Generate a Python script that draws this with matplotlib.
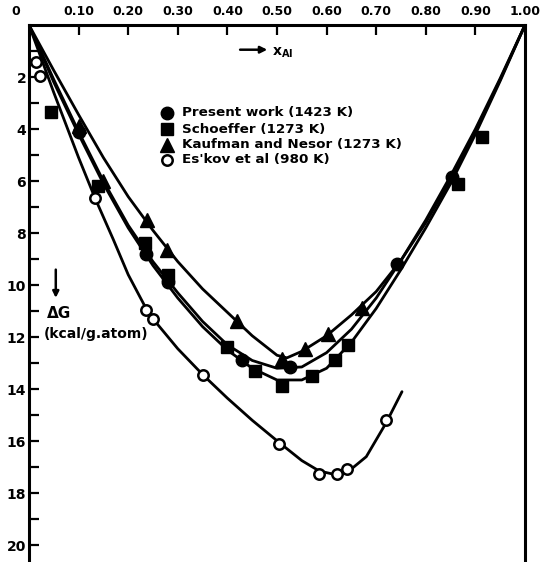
import matplotlib
matplotlib.use('Agg')
import matplotlib.pyplot as plt

# ---------------- data ----------------
x_ticks = [0.10, 0.20, 0.30, 0.40, 0.50, 0.60, 0.70, 0.80, 0.90, 1.00]
x_tick_labels = ['0.10', '0.20', '0.30', '0.40', '0.50', '0.60', '0.70', '0.80', '0.90', '1.00']
y_major = [2, 4, 6, 8, 10, 12, 14, 16, 18, 20]
y_minor = [1, 3, 5, 7, 9, 11, 13, 15, 17, 19]

# measured points
present_x = [0.10, 0.236, 0.28, 0.43, 0.526, 0.742, 0.853]
present_y = [4.1, 8.8, 9.9, 12.9, 13.15, 9.2, 5.85]
schoeffer_x = [0.045, 0.14, 0.234, 0.28, 0.40, 0.456, 0.51, 0.57, 0.617, 0.643, 0.865, 0.913]
schoeffer_y = [3.35, 6.2, 8.4, 9.6, 12.4, 13.3, 13.9, 13.5, 12.9, 12.3, 6.1, 4.3]
kaufman_x = [0.10, 0.15, 0.238, 0.278, 0.419, 0.51, 0.556, 0.603, 0.671]
kaufman_y = [3.9, 6.0, 7.5, 8.65, 11.4, 12.85, 12.45, 11.9, 10.9]
eskov_x = [0.014, 0.023, 0.133, 0.236, 0.25, 0.351, 0.504, 0.585, 0.621, 0.641, 0.72]
eskov_y = [1.42, 1.97, 6.65, 10.96, 11.3, 13.46, 16.1, 17.27, 17.27, 17.08, 15.2]

# hand-drawn curves
kaufman_curve_x = [0, 0.05, 0.10, 0.15, 0.20, 0.25, 0.30, 0.35, 0.40, 0.45, 0.50, 0.52,
                   0.55, 0.60, 0.65, 0.70, 0.75, 0.80, 0.85, 0.90, 0.95, 1.0]
kaufman_curve_y = [0, 1.75, 3.45, 5.1, 6.6, 7.9, 9.1, 10.15, 11.05, 11.95, 12.7, 12.8,
                   12.55, 11.95, 11.15, 10.25, 9.05, 7.6, 5.95, 4.1, 2.1, 0]
present_curve_x = [0, 0.05, 0.10, 0.15, 0.20, 0.25, 0.30, 0.35, 0.40, 0.45, 0.50, 0.55,
                   0.60, 0.65, 0.70, 0.75, 0.80, 0.85, 0.90, 0.95, 1.0]
present_curve_y = [0, 2.1, 4.1, 6.0, 7.7, 9.1, 10.3, 11.4, 12.3, 12.9, 13.2, 13.15,
                   12.6, 11.7, 10.5, 9.05, 7.5, 5.8, 4.0, 2.05, 0]
schoeffer_curve_x = [0, 0.05, 0.10, 0.15, 0.20, 0.25, 0.30, 0.35, 0.40, 0.45, 0.50, 0.55,
                     0.60, 0.65, 0.70, 0.75, 0.80, 0.85, 0.90, 0.95, 1.0]
schoeffer_curve_y = [0, 2.2, 4.2, 6.1, 7.8, 9.25, 10.5, 11.6, 12.5, 13.2, 13.65, 13.65,
                     13.2, 12.2, 10.9, 9.4, 7.8, 6.1, 4.2, 2.15, 0]
eskov_curve_x = [0, 0.05, 0.10, 0.133, 0.17, 0.20, 0.236, 0.25, 0.30, 0.351, 0.40, 0.45,
                 0.504, 0.55, 0.585, 0.62, 0.645, 0.68, 0.72, 0.752]
eskov_curve_y = [0, 2.6, 5.1, 6.65, 8.25, 9.6, 10.9, 11.3, 12.45, 13.46, 14.35, 15.2,
                 16.05, 16.75, 17.15, 17.3, 17.15, 16.6, 15.3, 14.1]

labels = ['Present work (1423 K)', 'Schoeffer (1273 K)',
          'Kaufman and Nesor (1273 K)', "Es'kov et al (980 K)"]

# ---------------- figure ----------------
fig = plt.figure(figsize=(5.47, 5.62), dpi=100)
ax = fig.add_axes([29 / 547, 0.0, (525 - 29) / 547, 1 - 25 / 562])
ax.set_xlim(0, 1.0)
ax.set_ylim(20.65, 0)

lw = 2.0
for cx, cy in [(kaufman_curve_x, kaufman_curve_y), (present_curve_x, present_curve_y),
               (schoeffer_curve_x, schoeffer_curve_y), (eskov_curve_x, eskov_curve_y)]:
    ax.plot(cx, cy, color='black', lw=lw, solid_joinstyle='round', solid_capstyle='round',
            zorder=2)

ax.plot(present_x, present_y, 'o', color='black', ms=9, zorder=3)
ax.plot(schoeffer_x, schoeffer_y, 's', color='black', ms=8.5, zorder=3)
ax.plot(kaufman_x, kaufman_y, '^', color='black', ms=10, zorder=3)
ax.plot(eskov_x, eskov_y, 'o', mfc='white', mec='black', mew=1.8, ms=7.5, zorder=4)

# legend (manual)
leg_x = 0.278
leg_y = [3.38, 4.0, 4.6, 5.19]
styles = [dict(marker='o', color='black', ms=9),
          dict(marker='s', color='black', ms=8),
          dict(marker='^', color='black', ms=9.5),
          dict(marker='o', mfc='white', mec='black', mew=1.8, ms=7.5)]
for yy, st, lab in zip(leg_y, styles, labels):
    ax.plot([leg_x], [yy], linestyle='none', **st)
    ax.text(leg_x + 0.03, yy, lab, fontsize=9.7, fontweight='bold',
            family='DejaVu Sans', va='center', ha='left')

# x_Al arrow
ax.annotate('', xy=(0.486, 0.95), xytext=(0.42, 0.95),
            arrowprops=dict(arrowstyle='-|>', color='black', lw=1.8, mutation_scale=10))
ax.text(0.49, 1.05, r'$\mathbf{x_{Al}}$', fontsize=10, va='center', ha='left')

# Delta G label
ax.annotate('', xy=(0.054, 10.6), xytext=(0.054, 9.3),
            arrowprops=dict(arrowstyle='-|>', color='black', lw=1.8, mutation_scale=9))
ax.text(0.036, 11.1, '\u0394G', fontsize=11, fontweight='bold',
        family='DejaVu Sans', va='center', ha='left')
ax.text(0.030, 11.9, '(kcal/g.atom)', fontsize=10, fontweight='bold',
        family='DejaVu Sans', va='center', ha='left')

# axes styling
ax.xaxis.tick_top()
ax.set_xticks(x_ticks)
ax.set_xticklabels(x_tick_labels)
ax.set_yticks(y_major)
ax.set_yticklabels([str(v) for v in y_major])
ax.set_yticks(y_minor, minor=True)
ax.tick_params(axis='x', which='major', direction='in', length=7, width=1.6, pad=5,
               labelsize=9)
ax.tick_params(axis='y', which='both', direction='in', length=7.5, width=1.6, pad=2,
               labelsize=10)
ax.tick_params(axis='y', which='minor', length=7.5, width=1.6)
for lab in ax.get_xticklabels() + ax.get_yticklabels():
    lab.set_fontweight('bold')
    lab.set_family('DejaVu Sans')
ax.annotate('0', xy=(-0.026, 1.0), xycoords=('data', 'axes fraction'),
            xytext=(0, 5), textcoords='offset points', ha='center', va='bottom',
            fontsize=9, fontweight='bold', annotation_clip=False)

for side in ['top', 'left', 'right']:
    ax.spines[side].set_linewidth(2.2)
ax.spines['bottom'].set_visible(False)

fig.savefig('out.png', dpi=100)
